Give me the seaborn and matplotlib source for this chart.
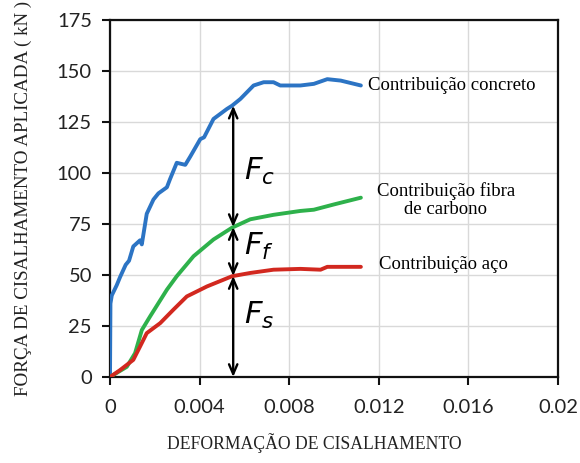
import matplotlib
matplotlib.use("Agg")
import matplotlib.pyplot as plt
import seaborn as sns
import pandas as pd

# ---- data ----
conc_x = [0, 0.00002, 0.00008, 0.0003, 0.00045, 0.0007, 0.00085, 0.00104, 0.00134, 0.00142,
          0.00164, 0.00194, 0.00216, 0.00254, 0.00268, 0.00298, 0.00336, 0.00358, 0.00403,
          0.0042, 0.00462, 0.00522, 0.00545, 0.00582, 0.00641, 0.00686, 0.0073, 0.0076,
          0.0085, 0.0091, 0.0097, 0.0103, 0.0112]
conc_y = [0, 36, 40, 45, 49, 55, 57, 64, 67, 65, 80, 87, 90, 93, 97, 105, 104, 108, 116.6,
          117.5, 126.5, 131.4, 133, 136.3, 142.9, 144.5, 144.5, 142.9, 142.9, 143.7, 146,
          145.3, 142.9]

fib_x = [0, 0.00015, 0.00075, 0.00112, 0.00142, 0.00179, 0.00254, 0.00298, 0.00373, 0.00462,
         0.00545, 0.00626, 0.0073, 0.0085, 0.0091, 0.01, 0.0112]
fib_y = [0, 1, 5, 11.7, 23, 29.7, 42.8, 49.4, 59.2, 67.4, 73.2, 77.3, 79.5, 81.4, 82, 84.6, 87.9]

steel_x = [0, 0.00045, 0.00104, 0.00134, 0.00164, 0.00224, 0.00283, 0.00343, 0.00433, 0.00545,
           0.00626, 0.0073, 0.0085, 0.0094, 0.0097, 0.0112]
steel_y = [0, 3.4, 8.4, 14.9, 21.5, 26.4, 33, 39.5, 44.4, 49.4, 51, 52.6, 53, 52.6, 54, 54]

series_names = ["Contribuição concreto", "Contribuição fibra\nde carbono", "Contribuição aço"]
series_colors = ["#2c74c4", "#2eb14b", "#d2281f"]

arrow_x = 0.0055
arrow_levels = [0, 49.5, 73.5, 133]
force_labels = [r"$F_s$", r"$F_f$", r"$F_c$"]
force_label_y = [30, 64, 101]

x_ticks = [0, 0.004, 0.008, 0.012, 0.016, 0.02]
x_ticklabels = ["0", "0.004", "0.008", "0.012", "0.016", "0.02"]
y_ticks = [0, 25, 50, 75, 100, 125, 150, 175]

xlabel = "DEFORMAÇÃO DE CISALHAMENTO"
ylabel = "FORÇA DE CISALHAMENTO APLICADA ( kN )"

# ---- plot ----
sns.set_style("white")
plt.rcParams["mathtext.fontset"] = "dejavusans"

fig = plt.figure(figsize=(5.8, 4.63), dpi=100)
ax = fig.add_axes([110 / 580, 1 - 377 / 463, 448 / 580, 357 / 463])

frames = []
for name, xs, ys in zip(series_names, [conc_x, fib_x, steel_x], [conc_y, fib_y, steel_y]):
    frames.append(pd.DataFrame({"x": xs, "y": ys, "s": name}))
df = pd.concat(frames, ignore_index=True)

for name, col in zip(series_names, series_colors):
    sub = df[df["s"] == name]
    sns.lineplot(data=sub, x="x", y="y", ax=ax, color=col, lw=2.8, sort=False,
                 estimator=None, legend=False, zorder=3)

ax.set_xlim(0, 0.02)
ax.set_ylim(0, 175)
ax.set_xticks(x_ticks)
ax.set_xticklabels(x_ticklabels)
ax.set_yticks(y_ticks)
ax.grid(True, color="#d9d9d9", lw=1.0, zorder=0)
ax.set_axisbelow(True)
for sp in ax.spines.values():
    sp.set_color("#111111")
    sp.set_linewidth(1.6)
ax.tick_params(axis="both", direction="out", length=6, width=1.5, color="#111111",
               labelsize=14.5, labelcolor="#222222", pad=7, bottom=True, left=True)
ax.tick_params(axis="x", pad=10)
for lab in ax.get_xticklabels() + ax.get_yticklabels():
    lab.set_fontfamily("Lato")

ax.set_xlabel(xlabel, fontfamily="Liberation Serif", fontsize=12.7, color="#222222", labelpad=12)
ax.xaxis.set_label_coords(0.455, -0.157)
ax.set_ylabel(ylabel, fontfamily="Liberation Serif", fontsize=13.7, color="#222222", labelpad=18)

# double arrows
for lo, hi in zip(arrow_levels[:-1], arrow_levels[1:]):
    ax.annotate("", xy=(arrow_x, hi), xytext=(arrow_x, lo),
                arrowprops=dict(arrowstyle="<->,head_length=0.7,head_width=0.3",
                                lw=1.7, color="black", shrinkA=0, shrinkB=0),
                zorder=4)
for yv, lab in zip(force_label_y, force_labels):
    ax.text(arrow_x + 0.0005, yv, lab, fontsize=22, color="black",
            ha="left", va="center", zorder=5)

# series labels
ax.text(0.01154, 142.7, series_names[0], fontfamily="Liberation Serif", fontsize=13.5,
        ha="left", va="center", color="black")
ax.text(0.01499, 86.6, series_names[1], fontfamily="Liberation Serif", fontsize=13.5,
        ha="center", va="center", color="black", linespacing=1.1)
ax.text(0.01199, 55.1, series_names[2], fontfamily="Liberation Serif", fontsize=13.5,
        ha="left", va="center", color="black")

fig.savefig("out.png", dpi=100)
